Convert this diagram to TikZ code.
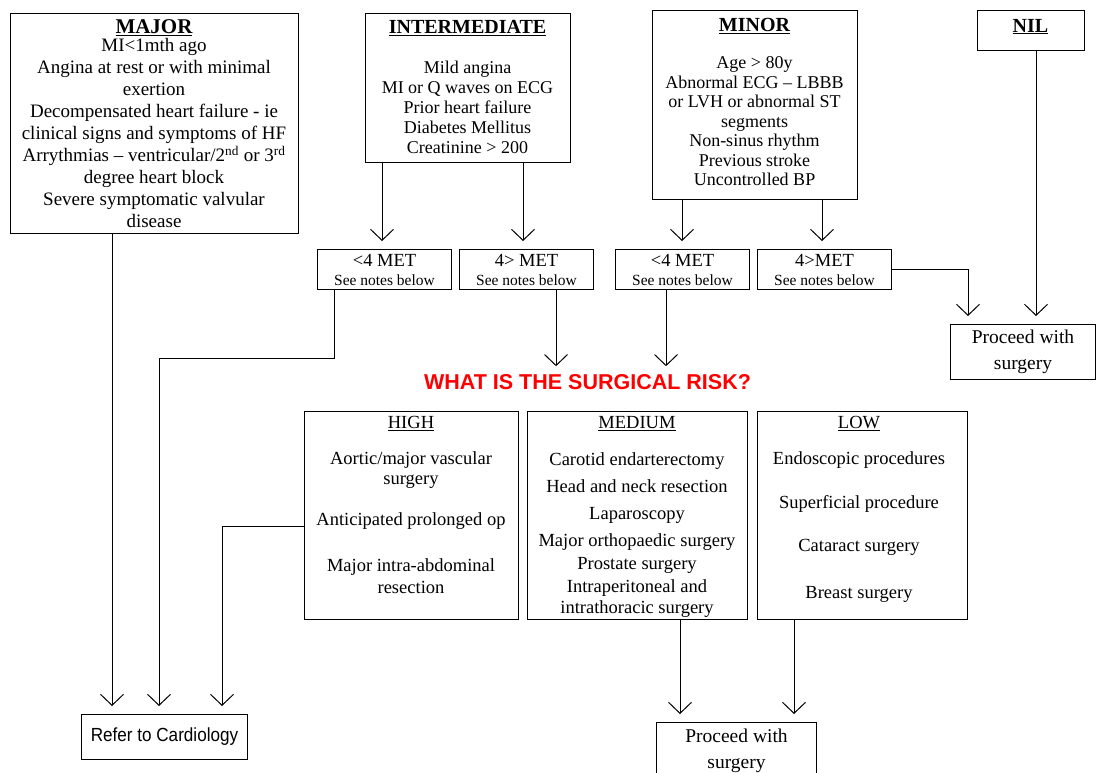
\documentclass[tikz,border=0pt]{standalone}
\usepackage{fontspec}
\setmainfont{Liberation Serif}
\setsansfont{Liberation Sans}
\newfontfamily\narrowsans[FakeStretch=0.9]{Liberation Sans}
\usetikzlibrary{arrows.meta}
\begin{document}
\begin{tikzpicture}[x=1pt,y=-1pt,
  box/.style={draw, line width=1pt, anchor=north west, inner sep=0pt, align=center},
  txt/.style={align=center, inner sep=0pt, anchor=north},
  arr/.style={line width=1pt, -{Straight Barb[length=11pt,width=23pt,line width=1pt]}, shorten >=8pt},
  metbox/.style={box, minimum width=134pt, minimum height=40pt, font=\fontsize{15.5}{19}\selectfont},
  pbox/.style={box, font=\fontsize{19.5}{26}\selectfont}]
\useasboundingbox (0,0) rectangle (1100,772);
\fill[white] (0,0) rectangle (1100,772);
\clip (0,0) rectangle (1100,772);

% top boxes
\node[box, minimum width=288pt, minimum height=220pt] (major) at (10,13) {};
\node[txt, font=\fontsize{19}{22}\selectfont] (majort) at (154,19)
  {{\fontsize{21}{21}\selectfont\textbf{\underline{MAJOR}}}\\[-3.5pt]
   MI<1mth ago\\
   Angina at rest or with minimal\\
   exertion\\
   Decompensated heart failure - ie\\
   clinical signs and symptoms of HF\\
   Arrythmias – ventricular/2\textsuperscript{nd} or 3\textsuperscript{rd}\\
   degree heart block\\
   Severe symptomatic valvular\\
   disease};

\node[box, minimum width=205pt, minimum height=149pt] (inter) at (365,13) {};
\node[txt, font=\fontsize{18}{20}\selectfont] (intert) at (467.5,20)
  {{\fontsize{20}{20}\selectfont\textbf{\underline{INTERMEDIATE}}}\\[20pt]
   Mild angina\\
   MI or Q waves on ECG\\
   Prior heart failure\\
   Diabetes Mellitus\\
   Creatinine > 200};

\node[box, minimum width=205pt, minimum height=189pt] (minor) at (652,10) {};
\node[txt, font=\fontsize{18}{19.5}\selectfont] (minort) at (754.5,18)
  {{\fontsize{20}{20}\selectfont\textbf{\underline{MINOR}}}\\[18pt]
   Age > 80y\\
   Abnormal ECG – LBBB\\
   or LVH or abnormal ST\\
   segments\\
   Non-sinus rhythm\\
   Previous stroke\\
   Uncontrolled BP};

\node[box, minimum width=107pt, minimum height=40pt] (nil) at (977,10) {};
\node[txt, font=\fontsize{20}{20}\selectfont] (nilt) at (1030.5,19) {\textbf{\underline{NIL}}};

% MET boxes
\node[metbox] (met1) at (317,249) {{\fontsize{18.5}{19}\selectfont <4 MET}\\See notes below};
\node[metbox] (met2) at (459,249) {{\fontsize{18.5}{19}\selectfont 4> MET}\\See notes below};
\node[metbox] (met3) at (615,249) {{\fontsize{18.5}{19}\selectfont <4 MET}\\See notes below};
\node[metbox] (met4) at (757,249) {{\fontsize{18.5}{19}\selectfont 4>MET}\\See notes below};

\node[pbox, minimum width=145pt, minimum height=55pt] (proc1) at (950,324) {Proceed with\\surgery};

% question
\node[inner sep=0pt, text=red, font=\sffamily\bfseries\fontsize{21.5}{22}\selectfont] (risk) at (587.5,382) {WHAT IS THE SURGICAL RISK?};

% risk boxes
\node[box, minimum width=214pt, minimum height=208pt] (high) at (304,411) {};
\node[txt, font=\fontsize{18.5}{21}\selectfont] (hight) at (411,416)
  {\underline{HIGH}\\[15pt]
   Aortic/major vascular\\[-1pt]
   surgery\\[20pt]
   Anticipated prolonged op\\[25pt]
   Major intra-abdominal\\[1pt]
   resection};

\node[box, minimum width=220pt, minimum height=208pt] (medium) at (527,411) {};
\node[txt, font=\fontsize{18.5}{21}\selectfont] (mediumt) at (637,416)
  {\underline{MEDIUM}\\[16pt]
   Carotid endarterectomy\\[6pt]
   Head and neck resection\\[6pt]
   Laparoscopy\\[6pt]
   Major orthopaedic surgery\\[2pt]
   Prostate surgery\\[2pt]
   Intraperitoneal and\\
   intrathoracic surgery};

\node[box, minimum width=210pt, minimum height=208pt] (low) at (757,411) {};
\node[txt, font=\fontsize{18.5}{21}\selectfont] (lowt) at (859,416)
  {\underline{LOW}\\[15pt]
   Endoscopic procedures\\[23pt]
   Superficial procedure\\[22pt]
   Cataract surgery\\[26pt]
   Breast surgery};

% bottom boxes
\node[box, minimum width=166pt, minimum height=45pt, font=\narrowsans\fontsize{19}{19}\selectfont] (refer) at (81,714) {Refer to Cardiology};
\node[pbox, minimum width=160pt, minimum height=56pt] (proc2) at (656,722) {Proceed with\\surgery};

% x positions of connectors
\coordinate (c112) at (112,0);
\coordinate (c382) at (382,0);
\coordinate (c523) at (523,0);
\coordinate (c682) at (682,0);
\coordinate (c822) at (822,0);
\coordinate (c556) at (556,0);
\coordinate (c666) at (666,0);
\coordinate (c968) at (968,0);
\coordinate (c1036) at (1036,0);
\coordinate (c680) at (680,0);
\coordinate (c794) at (794,0);
\coordinate (b1) at (334,358);
\coordinate (b2) at (159,358);
\coordinate (b3) at (222,526);

% connectors
\draw[arr] (c112 |- major.south) -- (c112 |- refer.north);
\draw[arr] (b1 |- met1.south) -- (b1) -- (b2) -- (b2 |- refer.north);
\draw[arr] (b3 -| high.west) -- (b3) -- (b3 |- refer.north);
\draw[arr] (c382 |- inter.south) -- (c382 |- met1.north);
\draw[arr] (c523 |- inter.south) -- (c523 |- met2.north);
\draw[arr] (c682 |- minor.south) -- (c682 |- met3.north);
\draw[arr] (c822 |- minor.south) -- (c822 |- met4.north);
\draw[arr] (c556 |- met2.south) -- (c556 |- risk.north);
\draw[arr] (c666 |- met3.south) -- (c666 |- risk.north);
\draw[arr] (met4.east) -| (c968 |- proc1.north);
\draw[arr] (c1036 |- nil.south) -- (c1036 |- proc1.north);
\draw[arr] (c680 |- medium.south) -- (c680 |- proc2.north);
\draw[arr] (c794 |- low.south) -- (c794 |- proc2.north);
\end{tikzpicture}
\end{document}
